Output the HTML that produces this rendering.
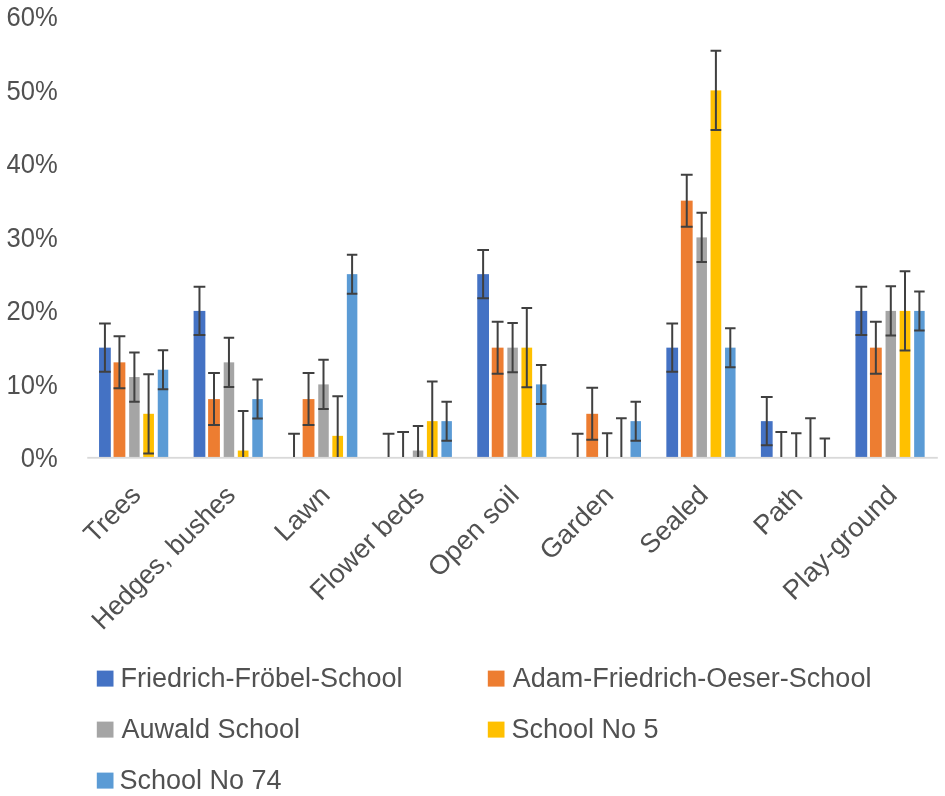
<!DOCTYPE html>
<html><head><meta charset="utf-8"><style>
html,body{margin:0;padding:0;background:#fff;overflow:hidden;}
svg{display:block;will-change:transform;}
text{font-family:"Liberation Sans",sans-serif;font-size:26.8px;fill:#515151;}
.lg{font-size:27px;}
</style></head><body>
<svg width="945" height="796" viewBox="0 0 945 796">
<rect width="945" height="796" fill="#fff"/>

<text transform="translate(57.8,467.00) scale(0.955,1)" text-anchor="end">0%</text>
<text transform="translate(57.8,393.50) scale(0.955,1)" text-anchor="end">10%</text>
<text transform="translate(57.8,320.00) scale(0.955,1)" text-anchor="end">20%</text>
<text transform="translate(57.8,246.50) scale(0.955,1)" text-anchor="end">30%</text>
<text transform="translate(57.8,173.00) scale(0.955,1)" text-anchor="end">40%</text>
<text transform="translate(57.8,99.50) scale(0.955,1)" text-anchor="end">50%</text>
<text transform="translate(57.8,26.00) scale(0.955,1)" text-anchor="end">60%</text>
<rect x="99.05" y="347.65" width="11.75" height="110.25" fill="#4472C4"/>
<rect x="113.55" y="362.35" width="11.80" height="95.55" fill="#ED7D31"/>
<rect x="129.15" y="377.05" width="10.50" height="80.85" fill="#A5A5A5"/>
<rect x="143.25" y="413.80" width="10.70" height="44.10" fill="#FFC000"/>
<rect x="157.75" y="369.70" width="10.50" height="88.20" fill="#5B9BD5"/>
<rect x="193.60" y="310.90" width="11.75" height="147.00" fill="#4472C4"/>
<rect x="208.10" y="399.10" width="11.80" height="58.80" fill="#ED7D31"/>
<rect x="223.70" y="362.35" width="10.50" height="95.55" fill="#A5A5A5"/>
<rect x="237.80" y="450.55" width="10.70" height="7.35" fill="#FFC000"/>
<rect x="252.30" y="399.10" width="10.50" height="58.80" fill="#5B9BD5"/>
<rect x="302.65" y="399.10" width="11.80" height="58.80" fill="#ED7D31"/>
<rect x="318.25" y="384.40" width="10.50" height="73.50" fill="#A5A5A5"/>
<rect x="332.35" y="435.85" width="10.70" height="22.05" fill="#FFC000"/>
<rect x="346.85" y="274.15" width="10.50" height="183.75" fill="#5B9BD5"/>
<rect x="412.80" y="450.55" width="10.50" height="7.35" fill="#A5A5A5"/>
<rect x="426.90" y="421.15" width="10.70" height="36.75" fill="#FFC000"/>
<rect x="441.40" y="421.15" width="10.50" height="36.75" fill="#5B9BD5"/>
<rect x="477.25" y="274.15" width="11.75" height="183.75" fill="#4472C4"/>
<rect x="491.75" y="347.65" width="11.80" height="110.25" fill="#ED7D31"/>
<rect x="507.35" y="347.65" width="10.50" height="110.25" fill="#A5A5A5"/>
<rect x="521.45" y="347.65" width="10.70" height="110.25" fill="#FFC000"/>
<rect x="535.95" y="384.40" width="10.50" height="73.50" fill="#5B9BD5"/>
<rect x="586.30" y="413.80" width="11.80" height="44.10" fill="#ED7D31"/>
<rect x="630.50" y="421.15" width="10.50" height="36.75" fill="#5B9BD5"/>
<rect x="666.35" y="347.65" width="11.75" height="110.25" fill="#4472C4"/>
<rect x="680.85" y="200.65" width="11.80" height="257.25" fill="#ED7D31"/>
<rect x="696.45" y="237.40" width="10.50" height="220.50" fill="#A5A5A5"/>
<rect x="710.55" y="90.40" width="10.70" height="367.50" fill="#FFC000"/>
<rect x="725.05" y="347.65" width="10.50" height="110.25" fill="#5B9BD5"/>
<rect x="760.90" y="421.15" width="11.75" height="36.75" fill="#4472C4"/>
<rect x="855.45" y="310.90" width="11.75" height="147.00" fill="#4472C4"/>
<rect x="869.95" y="347.65" width="11.80" height="110.25" fill="#ED7D31"/>
<rect x="885.55" y="310.90" width="10.50" height="147.00" fill="#A5A5A5"/>
<rect x="899.65" y="310.90" width="10.70" height="147.00" fill="#FFC000"/>
<rect x="914.15" y="310.90" width="10.50" height="147.00" fill="#5B9BD5"/>
<rect x="87.24" y="456.9" width="850.56" height="1.8" fill="#D9D9D9"/>
<path d="M104.92 323.45V371.85M99.05 323.45H110.80M99.05 371.85H110.80" stroke="#404040" stroke-width="2" fill="none"/>
<path d="M119.45 336.35V388.35M113.55 336.35H125.35M113.55 388.35H125.35" stroke="#404040" stroke-width="2" fill="none"/>
<path d="M134.40 352.45V401.65M129.15 352.45H139.65M129.15 401.65H139.65" stroke="#404040" stroke-width="2" fill="none"/>
<path d="M148.60 374.20V453.40M143.25 374.20H153.95M143.25 453.40H153.95" stroke="#404040" stroke-width="2" fill="none"/>
<path d="M163.00 350.20V389.20M157.75 350.20H168.25M157.75 389.20H168.25" stroke="#404040" stroke-width="2" fill="none"/>
<path d="M199.47 286.70V335.10M193.60 286.70H205.35M193.60 335.10H205.35" stroke="#404040" stroke-width="2" fill="none"/>
<path d="M214.00 373.10V425.10M208.10 373.10H219.90M208.10 425.10H219.90" stroke="#404040" stroke-width="2" fill="none"/>
<path d="M228.95 337.75V386.95M223.70 337.75H234.20M223.70 386.95H234.20" stroke="#404040" stroke-width="2" fill="none"/>
<path d="M243.15 410.95V457.00M237.80 410.95H248.50" stroke="#404040" stroke-width="2" fill="none"/>
<path d="M257.55 379.60V418.60M252.30 379.60H262.80M252.30 418.60H262.80" stroke="#404040" stroke-width="2" fill="none"/>
<path d="M294.02 433.70V457.00M288.15 433.70H299.90" stroke="#404040" stroke-width="2" fill="none"/>
<path d="M308.55 373.10V425.10M302.65 373.10H314.45M302.65 425.10H314.45" stroke="#404040" stroke-width="2" fill="none"/>
<path d="M323.50 359.80V409.00M318.25 359.80H328.75M318.25 409.00H328.75" stroke="#404040" stroke-width="2" fill="none"/>
<path d="M337.70 396.25V457.00M332.35 396.25H343.05" stroke="#404040" stroke-width="2" fill="none"/>
<path d="M352.10 254.65V293.65M346.85 254.65H357.35M346.85 293.65H357.35" stroke="#404040" stroke-width="2" fill="none"/>
<path d="M388.57 433.70V457.00M382.70 433.70H394.45" stroke="#404040" stroke-width="2" fill="none"/>
<path d="M403.10 431.90V457.00M397.20 431.90H409.00" stroke="#404040" stroke-width="2" fill="none"/>
<path d="M418.05 425.95V457.00M412.80 425.95H423.30" stroke="#404040" stroke-width="2" fill="none"/>
<path d="M432.25 381.55V457.00M426.90 381.55H437.60" stroke="#404040" stroke-width="2" fill="none"/>
<path d="M446.65 401.65V440.65M441.40 401.65H451.90M441.40 440.65H451.90" stroke="#404040" stroke-width="2" fill="none"/>
<path d="M483.12 249.95V298.35M477.25 249.95H489.00M477.25 298.35H489.00" stroke="#404040" stroke-width="2" fill="none"/>
<path d="M497.65 321.65V373.65M491.75 321.65H503.55M491.75 373.65H503.55" stroke="#404040" stroke-width="2" fill="none"/>
<path d="M512.60 323.05V372.25M507.35 323.05H517.85M507.35 372.25H517.85" stroke="#404040" stroke-width="2" fill="none"/>
<path d="M526.80 308.05V387.25M521.45 308.05H532.15M521.45 387.25H532.15" stroke="#404040" stroke-width="2" fill="none"/>
<path d="M541.20 364.90V403.90M535.95 364.90H546.45M535.95 403.90H546.45" stroke="#404040" stroke-width="2" fill="none"/>
<path d="M577.67 433.70V457.00M571.80 433.70H583.55" stroke="#404040" stroke-width="2" fill="none"/>
<path d="M592.20 387.80V439.80M586.30 387.80H598.10M586.30 439.80H598.10" stroke="#404040" stroke-width="2" fill="none"/>
<path d="M607.15 433.30V457.00M601.90 433.30H612.40" stroke="#404040" stroke-width="2" fill="none"/>
<path d="M621.35 418.30V457.00M616.00 418.30H626.70" stroke="#404040" stroke-width="2" fill="none"/>
<path d="M635.75 401.65V440.65M630.50 401.65H641.00M630.50 440.65H641.00" stroke="#404040" stroke-width="2" fill="none"/>
<path d="M672.22 323.45V371.85M666.35 323.45H678.10M666.35 371.85H678.10" stroke="#404040" stroke-width="2" fill="none"/>
<path d="M686.75 174.65V226.65M680.85 174.65H692.65M680.85 226.65H692.65" stroke="#404040" stroke-width="2" fill="none"/>
<path d="M701.70 212.80V262.00M696.45 212.80H706.95M696.45 262.00H706.95" stroke="#404040" stroke-width="2" fill="none"/>
<path d="M715.90 50.80V130.00M710.55 50.80H721.25M710.55 130.00H721.25" stroke="#404040" stroke-width="2" fill="none"/>
<path d="M730.30 328.15V367.15M725.05 328.15H735.55M725.05 367.15H735.55" stroke="#404040" stroke-width="2" fill="none"/>
<path d="M766.77 396.95V445.35M760.90 396.95H772.65M760.90 445.35H772.65" stroke="#404040" stroke-width="2" fill="none"/>
<path d="M781.30 431.90V457.00M775.40 431.90H787.20" stroke="#404040" stroke-width="2" fill="none"/>
<path d="M796.25 433.30V457.00M791.00 433.30H801.50" stroke="#404040" stroke-width="2" fill="none"/>
<path d="M810.45 418.30V457.00M805.10 418.30H815.80" stroke="#404040" stroke-width="2" fill="none"/>
<path d="M824.85 438.40V457.00M819.60 438.40H830.10" stroke="#404040" stroke-width="2" fill="none"/>
<path d="M861.32 286.70V335.10M855.45 286.70H867.20M855.45 335.10H867.20" stroke="#404040" stroke-width="2" fill="none"/>
<path d="M875.85 321.65V373.65M869.95 321.65H881.75M869.95 373.65H881.75" stroke="#404040" stroke-width="2" fill="none"/>
<path d="M890.80 286.30V335.50M885.55 286.30H896.05M885.55 335.50H896.05" stroke="#404040" stroke-width="2" fill="none"/>
<path d="M905.00 271.30V350.50M899.65 271.30H910.35M899.65 350.50H910.35" stroke="#404040" stroke-width="2" fill="none"/>
<path d="M919.40 291.40V330.40M914.15 291.40H924.65M914.15 330.40H924.65" stroke="#404040" stroke-width="2" fill="none"/>
<text transform="translate(142.25,496.60) rotate(-45)" text-anchor="end">Trees</text>
<text transform="translate(236.80,496.60) rotate(-45)" text-anchor="end" textLength="189.99" lengthAdjust="spacingAndGlyphs">Hedges, bushes</text>
<text transform="translate(331.35,496.60) rotate(-45)" text-anchor="end" textLength="65.07" lengthAdjust="spacingAndGlyphs">Lawn</text>
<text transform="translate(425.90,496.60) rotate(-45)" text-anchor="end" textLength="148.87" lengthAdjust="spacingAndGlyphs">Flower beds</text>
<text transform="translate(520.45,496.60) rotate(-45)" text-anchor="end" textLength="115.62" lengthAdjust="spacingAndGlyphs">Open soil</text>
<text transform="translate(615.00,496.60) rotate(-45)" text-anchor="end" textLength="91.39" lengthAdjust="spacingAndGlyphs">Garden</text>
<text transform="translate(709.55,496.60) rotate(-45)" text-anchor="end">Sealed</text>
<text transform="translate(804.10,496.60) rotate(-45)" text-anchor="end" textLength="56.43" lengthAdjust="spacingAndGlyphs">Path</text>
<text transform="translate(898.65,496.60) rotate(-45)" text-anchor="end" textLength="148.21" lengthAdjust="spacingAndGlyphs">Play-ground</text>
<rect x="96.8" y="670.6" width="16.7" height="16" fill="#4472C4"/>
<text class="lg" x="120.5" y="687.4">Friedrich-Fröbel-School</text>
<rect x="487.8" y="670.6" width="16.7" height="16" fill="#ED7D31"/>
<text class="lg" x="512.8" y="687.4">Adam-Friedrich-Oeser-School</text>
<rect x="96.8" y="721.6" width="16.7" height="16" fill="#A5A5A5"/>
<text class="lg" x="121.4" y="738.4">Auwald School</text>
<rect x="487.8" y="721.6" width="16.7" height="16" fill="#FFC000"/>
<text class="lg" x="511.5" y="738.4">School No 5</text>
<rect x="96.8" y="772.6" width="16.7" height="16" fill="#5B9BD5"/>
<text class="lg" x="119.4" y="789.4">School No 74</text>
</svg></body></html>
